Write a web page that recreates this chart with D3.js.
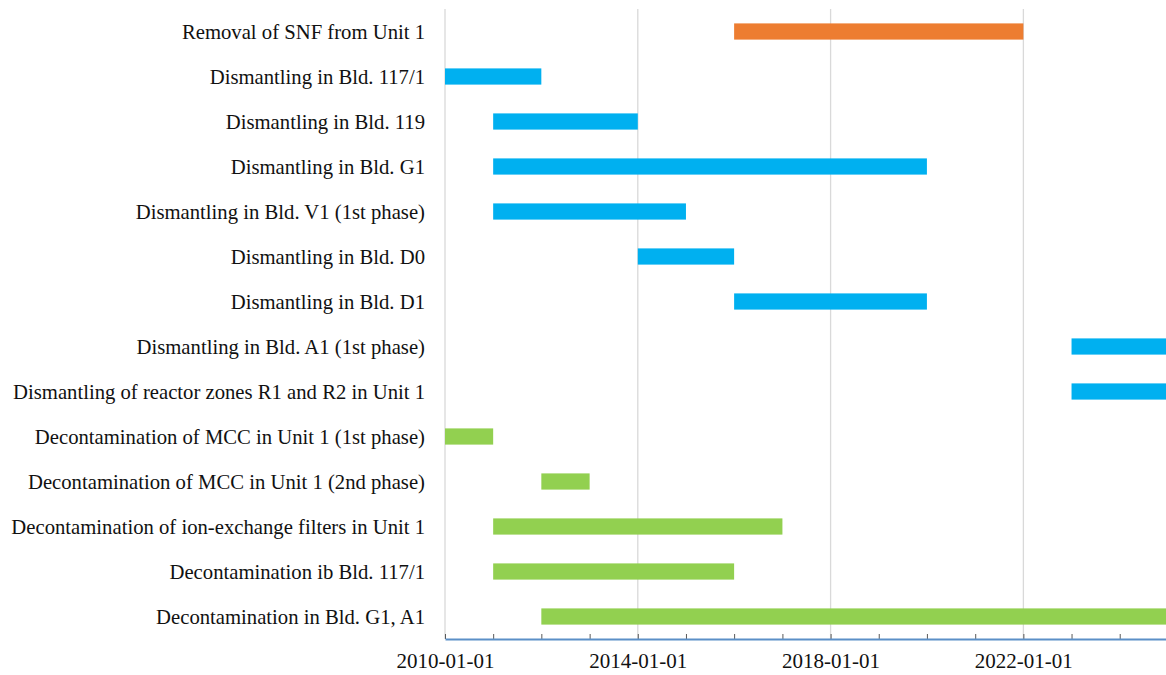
<!DOCTYPE html>
<html>
<head>
<meta charset="utf-8">
<script src="https://cdn.jsdelivr.net/npm/d3@7"></script>
<style>
  body { margin: 0; background: #fff; }
  .label { font-family: "Liberation Serif", "Times New Roman", serif; font-size: 20.7px; fill: #111; }
  .xaxis text { font-family: "Liberation Serif", "Times New Roman", serif; font-size: 21px; fill: #111; }
</style>
</head>
<body>
<script>
var tasks = [
    "Removal of SNF from Unit 1",
    "Dismantling in Bld. 117/1",
    "Dismantling in Bld. 119",
    "Dismantling in Bld. G1",
    "Dismantling in Bld. V1 (1st phase)",
    "Dismantling in Bld. D0",
    "Dismantling in Bld. D1",
    "Dismantling in Bld. A1 (1st phase)",
    "Dismantling of reactor zones R1 and R2 in Unit 1",
    "Decontamination of MCC in Unit 1 (1st phase)",
    "Decontamination of MCC in Unit 1 (2nd phase)",
    "Decontamination of ion-exchange filters in Unit 1",
    "Decontamination ib Bld. 117/1",
    "Decontamination in Bld. G1, A1"
];
var starts = ["2016-01-01", "2010-01-01", "2011-01-01", "2011-01-01", "2011-01-01", "2014-01-01", "2016-01-01",
    "2023-01-01", "2023-01-01", "2010-01-01", "2012-01-01", "2011-01-01", "2011-01-01", "2012-01-01"];
var ends = ["2022-01-01", "2012-01-01", "2014-01-01", "2020-01-01", "2015-01-01", "2016-01-01", "2020-01-01",
    "2026-01-01", "2026-01-01", "2011-01-01", "2013-01-01", "2017-01-01", "2016-01-01", "2026-01-01"];
var groups = ["removal", "dismantling", "dismantling", "dismantling", "dismantling", "dismantling", "dismantling",
    "dismantling", "dismantling", "decontamination", "decontamination", "decontamination", "decontamination", "decontamination"];
var tickDates = ["2010-01-01", "2014-01-01", "2018-01-01", "2022-01-01"];

var W = 1166, H = 675;
var margin = { top: 9, right: 0, bottom: 36, left: 445 };
var width = W - margin.left - margin.right,
    height = H - margin.top - margin.bottom;

var parseDate = d3.timeParse("%Y-%m-%d");
var formatTime = d3.timeFormat("%Y-%m-%d");

var data = tasks.map(function (t, i) {
    return { name: t, start: parseDate(starts[i]), end: parseDate(ends[i]), group: groups[i] };
});

var svg = d3.select("body").append("svg")
    .attr("width", W)
    .attr("height", H);

var g = svg.append("g")
    .attr("transform", "translate(" + margin.left + "," + margin.top + ")");

// the picture is cropped on the right, so the time axis runs a bit past the edge
var xScale = d3.scaleTime()
    .domain([parseDate("2010-01-01"), parseDate("2025-01-01")])
    .range([0, width + 2]);
var yScale = d3.scaleBand().domain(tasks).range([0, height]).paddingInner(0.64).paddingOuter(0.32);

var colorScale = d3.scaleOrdinal()
    .domain(["removal", "dismantling", "decontamination"])
    .range(["#ED7D31", "#00B0F0", "#92D050"]);

// vertical grid lines at the labelled dates
g.append("g").selectAll("line")
    .data(tickDates.map(parseDate))
    .enter().append("line")
    .attr("x1", function (d) { return xScale(d); })
    .attr("x2", function (d) { return xScale(d); })
    .attr("y1", 0)
    .attr("y2", height)
    .attr("stroke", "#d9d9d9")
    .attr("stroke-width", 1.3);

g.append("g").selectAll("rect")
    .data(data)
    .enter().append("rect")
    .attr("x", function (d) { return xScale(d.start); })
    .attr("y", function (d) { return yScale(d.name); })
    .attr("width", function (d) { return xScale(d.end) - xScale(d.start); })
    .attr("height", yScale.bandwidth())
    .attr("fill", function (d) { return colorScale(d.group); });

// task labels
g.append("g").selectAll("text")
    .data(tasks)
    .enter().append("text")
    .attr("class", "label")
    .attr("x", -20)
    .attr("y", function (d) { return yScale(d) + yScale.bandwidth() / 2; })
    .attr("dy", "0.35em")
    .attr("text-anchor", "end")
    .text(function (d) { return d; });

// minor yearly ticks
var xMinor = d3.axisBottom(xScale)
    .ticks(d3.timeYear.every(1))
    .tickSize(-5)
    .tickFormat("");
g.append("g")
    .attr("transform", "translate(0," + height + ")")
    .call(xMinor)
    .call(function (s) {
        s.select(".domain").remove();
        s.selectAll(".tick line").attr("stroke", "#595959");
    });

var xAxis = d3.axisBottom(xScale)
    .tickValues(tickDates.map(parseDate))
    .tickSize(0)
    .tickPadding(14)
    .tickFormat(formatTime);
g.append("g")
    .attr("class", "xaxis")
    .attr("transform", "translate(0," + height + ")")
    .call(xAxis)
    .call(function (s) {
        s.select(".domain").attr("stroke", "#5b8fc7").attr("stroke-width", 2);
    });
</script>
</body>
</html>
